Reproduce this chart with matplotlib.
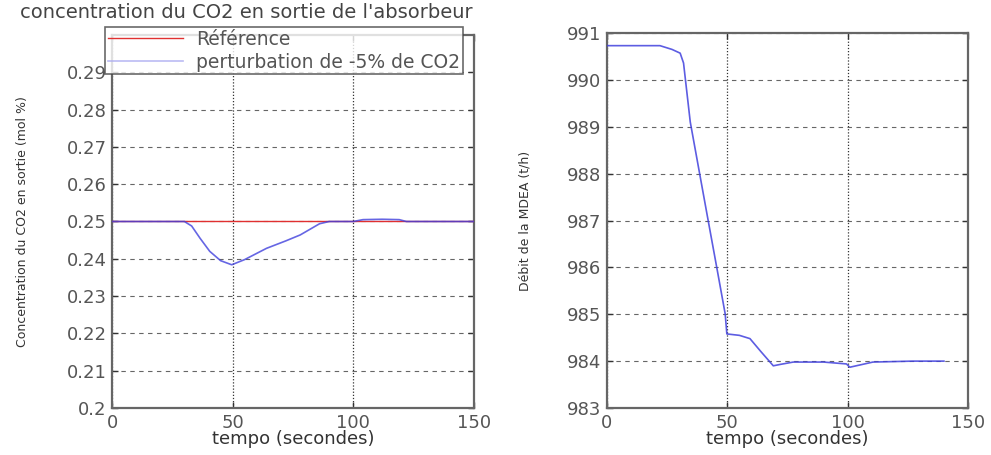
import matplotlib.pyplot as plt

# left panel: CO2 concentration at absorber outlet
t_ref = [0, 150]
co2_ref = [0.25, 0.25]
t_pert = [0, 30, 33, 36.5, 40.5, 45, 49.6, 55, 64, 72, 78, 86, 90, 100, 104, 112, 119, 122, 150]
co2_pert = [0.25, 0.25, 0.2488, 0.2455, 0.2420, 0.2395, 0.2384, 0.2398, 0.2428, 0.2448, 0.2464, 0.2494, 0.2500,
            0.2500, 0.2505, 0.2506, 0.2505, 0.2500, 0.2500]

# right panel: MDEA flow
t_mdea = [0, 22, 27, 30.4, 31.8, 34.6, 41.5, 45.6, 49.1, 49.8, 55, 59.4, 64, 69.1, 72, 77.4, 90, 99.5, 100.9,
          110.5, 127, 140]
mdea = [990.73, 990.73, 990.65, 990.57, 990.36, 989.1, 987.15, 986.0, 985.01, 984.58, 984.55, 984.48, 984.2,
        983.90, 983.93, 983.98, 983.98, 983.94, 983.87, 983.98, 984.0, 984.0]

plt.rcParams['font.family'] = 'DejaVu Sans'

fig = plt.figure(figsize=(9.91, 4.55), dpi=100)
W, H = 991, 455
ax1 = fig.add_axes([112 / W, 1 - 408 / H, (474 - 112) / W, (408 - 35) / H])
ax2 = fig.add_axes([607 / W, 1 - 408 / H, (968 - 607) / W, (408 - 33) / H])

red = '#e03030'
blue = '#4040dd'

ax1.plot(t_ref, co2_ref, color=red, lw=1.0, label='Référence', zorder=3)
ax1.plot(t_pert, co2_pert, color=blue, lw=1.2, alpha=0.8, label='perturbation de -5% de CO2', zorder=3)
ax1.set_ylim(0.2, 0.3)
ax1.set_yticks([0.2, 0.21, 0.22, 0.23, 0.24, 0.25, 0.26, 0.27, 0.28, 0.29])
ax1.set_yticklabels(['0.2', '0.21', '0.22', '0.23', '0.24', '0.25', '0.26', '0.27', '0.28', '0.29'])
ax1.set_ylabel('Concentration du CO2 en sortie (mol %)', fontsize=9, color='#333333')
ax1.yaxis.set_label_coords(-0.23, 0.5)

ax2.plot(t_mdea, mdea, color=blue, lw=1.2, alpha=0.85, zorder=3)
ax2.set_ylim(983, 991)
ax2.set_yticks(range(983, 992))
ax2.set_ylabel('Débit de la MDEA (t/h)', fontsize=9, color='#333333')
ax2.yaxis.set_label_coords(-0.21, 0.5)

for ax in (ax1, ax2):
    ax.set_xlim(0, 150)
    ax.set_xticks([0, 50, 100, 150])
    ax.set_xlabel('tempo (secondes)', fontsize=13, labelpad=-1, color='#333333')
    ax.tick_params(direction='in', top=True, right=True, length=4, width=1, colors='#333333',
                   labelcolor='#555555', labelsize=13, pad=4)
    for sp in ax.spines.values():
        sp.set_color('#666666')
        sp.set_linewidth(1.6)
    ax.yaxis.grid(True, linestyle=(0, (4, 4)), color='#666666', lw=0.8)
    ax.xaxis.grid(True, linestyle=(0, (1, 1.5)), color='#333333', lw=0.9)
    ax.set_axisbelow(True)

leg = fig.legend(*ax1.get_legend_handles_labels(), loc='upper left',
                 bbox_to_anchor=(105 / W, 1 - 27 / H), fontsize=13.5, frameon=True, fancybox=False,
                 handlelength=4.0, borderpad=0.15, labelspacing=0.2, borderaxespad=0, handletextpad=0.7)
leg.get_frame().set_edgecolor('#444444')
leg.get_frame().set_linewidth(1.2)
for txt in leg.get_texts():
    txt.set_color('#555555')
leg.get_lines()[1].set_color('#aaaaf0')

fig.text(20 / W, 1 - 12 / H, "concentration du CO2 en sortie de l'absorbeur", fontsize=14,
         color='#444444', va='center', ha='left')

fig.savefig('out.png', dpi=100)
